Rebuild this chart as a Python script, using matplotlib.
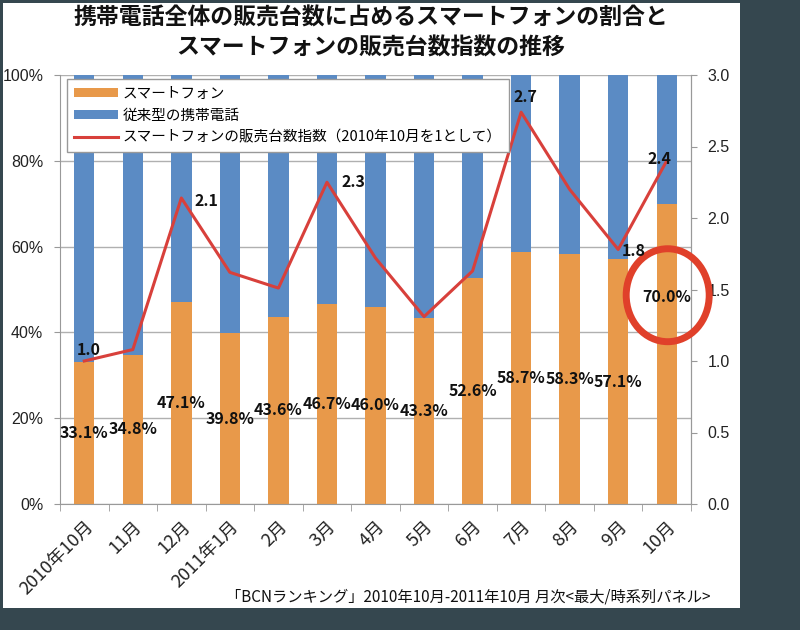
import matplotlib
matplotlib.use('Agg')
import matplotlib.pyplot as plt
from matplotlib.patches import Rectangle, Ellipse
import numpy as np

plt.rcParams['font.family'] = ['Noto Sans CJK JP', 'DejaVu Sans']

# data
months = ['2010年10月', '11月', '12月', '2011年1月', '2月', '3月', '4月',
          '5月', '6月', '7月', '8月', '9月', '10月']
smart = [33.1, 34.8, 47.1, 39.8, 43.6, 46.7, 46.0, 43.3, 52.6, 58.7, 58.3, 57.1, 70.0]
feature = [100 - s for s in smart]
index = [1.0, 1.08, 2.14, 1.62, 1.51, 2.25, 1.72, 1.31, 1.63, 2.74, 2.20, 1.78, 2.40]
index_labels = {0: '1.0', 2: '2.1', 5: '2.3', 9: '2.7', 11: '1.8', 12: '2.4'}

c_orange = '#E8994A'
c_blue = '#5B8BC4'
c_red = '#D8403B'

fig = plt.figure(figsize=(8, 6.3), dpi=100)
fig.patch.set_facecolor('#35474f')
panel = Rectangle((3 / 800, 1 - 608 / 630), 737 / 800, 605 / 630,
                  transform=fig.transFigure, facecolor='white', edgecolor='none')
panel.set_zorder(-5)
fig.patches.append(panel)

ax = fig.add_axes([60 / 800, 1 - 504 / 630, 631 / 800, 429 / 630])
ax.set_zorder(1)
ax.set_facecolor('white')
x = np.arange(len(months))
b1 = ax.bar(x, smart, width=0.42, color=c_orange, zorder=2, label='スマートフォン')
b2 = ax.bar(x, feature, bottom=smart, width=0.42, color=c_blue, zorder=2,
            label='従来型の携帯電話')
ax.set_xlim(-0.5, len(months) - 0.5)
ax.set_ylim(0, 100)
ax.set_yticks(range(0, 101, 20))
ax.set_yticklabels([f'{v}%' for v in range(0, 101, 20)], fontsize=11.5,
                   fontfamily=['Liberation Sans'])
ax.set_axisbelow(True)
ax.grid(axis='y', color='#b0b0b0', lw=1)
ax.spines['top'].set_visible(False)
for s in ['left', 'bottom', 'right']:
    ax.spines[s].set_color('#999999')
ax.tick_params(axis='y', length=4, color='#999999', colors='#222222', pad=8)

ax.set_xticks(x)
ax.set_xticklabels(months, rotation=45, ha='right', rotation_mode='anchor',
                   fontsize=13, color='#222222')
ax.tick_params(axis='x', which='major', length=0, pad=10)
ax.set_xticks(np.arange(-0.5, len(months), 1), minor=True)
ax.tick_params(axis='x', which='minor', length=5, color='#999999')

# percentage labels in the middle of the orange segments
for i, s in enumerate(smart):
    yy = s / 2 if i < len(smart) - 1 else 48.3
    ax.text(i, yy, f'{s:.1f}%', ha='center', va='center', fontsize=11.5,
            fontweight='bold', color='#111111', zorder=5)

ax2 = ax.twinx()
ax2.set_zorder(2)
ax2.patch.set_visible(False)
ax2.set_ylim(0, 3.0)
ax2.set_yticks(np.arange(0, 3.01, 0.5))
ax2.set_yticklabels([f'{v:.1f}' for v in np.arange(0, 3.01, 0.5)], fontsize=11.5,
                    fontfamily=['Liberation Sans'])
ax2.tick_params(axis='y', length=4, color='#999999', colors='#222222', pad=8)
for s in ['top', 'left', 'bottom']:
    ax2.spines[s].set_visible(False)
ax2.spines['right'].set_color('#999999')
line, = ax2.plot(x, index, color=c_red, lw=2.2, zorder=4,
                 label='スマートフォンの販売台数指数（2010年10月を1として）')

# red circle around the last value
ax2.add_patch(Ellipse((x[-1] + 0.02, 1.46), 1.71, 0.65, fill=False, edgecolor='#E0402A',
                      lw=5, zorder=7, clip_on=False))

offsets = {0: (3, 8), 2: (18, -2), 5: (19, 0), 9: (3, 11), 11: (11, -1), 12: (-5, 1)}
for i, t in index_labels.items():
    ax2.annotate(t, (x[i], index[i]), xytext=offsets[i], textcoords='offset points',
                 ha='center', va='center', fontsize=11.5, fontweight='bold',
                 color='#111111', zorder=8)

leg = ax2.legend([b1, b2, line], [b1.get_label(), b2.get_label(), line.get_label()],
                 loc='upper left', bbox_to_anchor=(0.011, 0.99), borderaxespad=0,
                 fontsize=10.5, handlelength=3.0, handleheight=0.6, frameon=True,
                 fancybox=False, framealpha=1, borderpad=0.5, labelspacing=0.55,
                 handletextpad=0.3)
leg.get_frame().set_edgecolor('#999999')
leg.get_frame().set_linewidth(1)
leg.set_zorder(10)

fig.text(371 / 800, 1 - 18 / 630, '携帯電話全体の販売台数に占めるスマートフォンの割合と',
         ha='center', va='center', fontsize=16.5, fontweight='bold', color='#111111')
fig.text(371 / 800, 1 - 48 / 630, 'スマートフォンの販売台数指数の推移',
         ha='center', va='center', fontsize=16.5, fontweight='bold', color='#111111')
fig.text(710 / 800, 1 - 597 / 630,
         '「BCNランキング」2010年10月-2011年10月 月次<最大/時系列パネル>',
         ha='right', va='center', fontsize=11, color='#111111')

fig.savefig('out.png', dpi=100, facecolor=fig.get_facecolor())
